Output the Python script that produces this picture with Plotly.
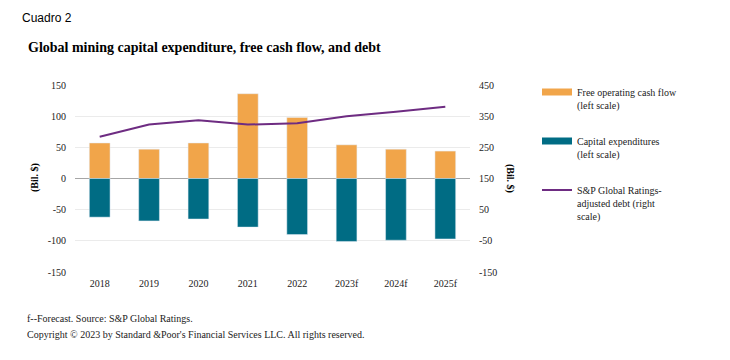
import plotly.graph_objects as go

years = ["2018", "2019", "2020", "2021", "2022", "2023f", "2024f", "2025f"]
free_cash_flow = [57, 47, 57, 136, 98, 54, 47, 44]
capex = [-62, -68, -65, -78, -90, -101, -99, -97]
adjusted_debt = [284, 323, 337, 323, 327, 350, 364, 380]
left_ticks = [-150, -100, -50, 0, 50, 100, 150]
left_tick_labels = ["-150", "-100", "-50", "0", "50", "100", "150"]
right_ticks = [-150, -50, 50, 150, 250, 350, 450]
right_tick_labels = ["-150", "-50", "50", "150", "250", "350", "450"]

ORANGE = "#F1A54A"
TEAL = "#006C84"
PURPLE = "#6E2C82"
SERIF = "Liberation Serif, Times New Roman, serif"

OFF = 8  # page body margin
W, H = 730 - OFF, 360 - OFF
L, R, T, B = 75 - OFF, 260, 85 - OFF, 88
PW, PH = W - L - R, H - T - B

def px(x):
    return (x - OFF - L) / PW

def py(y):
    return (H - B - (y - OFF)) / PH

fig = go.Figure()
fig.add_trace(go.Bar(x=years, y=free_cash_flow, marker_color=ORANGE, showlegend=False,
                     name="Free operating cash flow (left scale)"))
fig.add_trace(go.Bar(x=years, y=capex, marker_color=TEAL, showlegend=False,
                     name="Capital expenditures (left scale)"))
fig.add_trace(go.Scatter(x=years, y=adjusted_debt, mode="lines", yaxis="y2",
                         line=dict(color=PURPLE, width=2), showlegend=False,
                         name="S&P Global Ratings-adjusted debt (right scale)"))

# legend entries (line swatches like the original)
fig.add_trace(go.Scatter(x=[None], y=[None], mode="lines", line=dict(color=ORANGE, width=7),
                         name="Free operating cash flow<br>(left scale)", legendgroup="a"))
fig.add_trace(go.Scatter(x=[None], y=[None], mode="lines", line=dict(color=TEAL, width=7),
                         name="Capital expenditures<br>(left scale)", legendgroup="b"))
fig.add_trace(go.Scatter(x=[None], y=[None], mode="lines", line=dict(color=PURPLE, width=2),
                         name="S&P Global Ratings-<br>adjusted debt (right<br>scale)", legendgroup="c"))

fig.update_layout(
    width=W, height=H,
    margin=dict(l=L, r=R, t=T, b=B),
    paper_bgcolor="white", plot_bgcolor="white",
    barmode="overlay", bargap=0.58,
    font=dict(family=SERIF, size=10, color="#222222"),
    xaxis=dict(type="category", showgrid=False, showline=False, ticks="",
               ticklabelstandoff=4,
               tickfont=dict(family=SERIF, size=10, color="#222222")),
    xaxis2=dict(overlaying="x", anchor="free", position=0.5, range=[-0.5, 7.5],
                tickvals=[-0.5, 0.5, 1.5, 2.5, 3.5, 4.5, 5.5, 6.5, 7.5],
                ticks="outside", ticklen=4, tickcolor="#A6A6A6", showticklabels=False,
                showgrid=False, showline=False, zeroline=False),
    yaxis=dict(range=[-150, 150], tickvals=left_ticks, ticktext=left_tick_labels,
               showgrid=True, gridcolor="#EBEBEB",
               zeroline=True, zerolinecolor="#A6A6A6", zerolinewidth=1,
               ticklabelstandoff=8, tickfont=dict(family=SERIF, size=10, color="#222222")),
    yaxis2=dict(range=[-150, 450], tickvals=right_ticks, ticktext=right_tick_labels,
                overlaying="y", side="right",
                showgrid=False, zeroline=False, ticklabelstandoff=8,
                tickfont=dict(family=SERIF, size=10, color="#222222")),
    legend=dict(x=px(537), y=py(79), xanchor="left", yanchor="top",
                font=dict(family=SERIF, size=10, color="#222222"),
                tracegroupgap=20, valign="top", bgcolor="rgba(0,0,0,0)"),
    annotations=[
        dict(text="Cuadro 2", x=px(20), y=py(18), xref="paper", yref="paper",
             xanchor="left", yanchor="middle", showarrow=False,
             font=dict(family="Liberation Sans, Arial, sans-serif", size=12, color="#000000")),
        dict(text="<b>Global mining capital expenditure, free cash flow, and debt</b>",
             x=px(26), y=py(47), xref="paper", yref="paper", xanchor="left", yanchor="middle",
             showarrow=False, font=dict(family=SERIF, size=14, color="#000000")),
        dict(text="<b>(Bil. $)</b>", x=px(35), y=py(178), xref="paper", yref="paper",
             textangle=-90, showarrow=False, xanchor="center", yanchor="middle",
             font=dict(family=SERIF, size=10, color="#000000")),
        dict(text="<b>(Bil. $)</b>", x=px(510), y=py(178), xref="paper", yref="paper",
             textangle=90, showarrow=False, xanchor="center", yanchor="middle",
             font=dict(family=SERIF, size=10, color="#000000")),
        dict(text="f--Forecast. Source: S&P Global Ratings.", x=px(25), y=py(318),
             xref="paper", yref="paper", xanchor="left", yanchor="middle", showarrow=False,
             font=dict(family=SERIF, size=10, color="#222222")),
        dict(text="Copyright © 2023 by Standard &Poor's Financial Services LLC. All rights reserved.",
             x=px(25), y=py(334), xref="paper", yref="paper", xanchor="left", yanchor="middle",
             showarrow=False, font=dict(family=SERIF, size=10, color="#222222")),
    ],
)

fig.write_html("out.html")
